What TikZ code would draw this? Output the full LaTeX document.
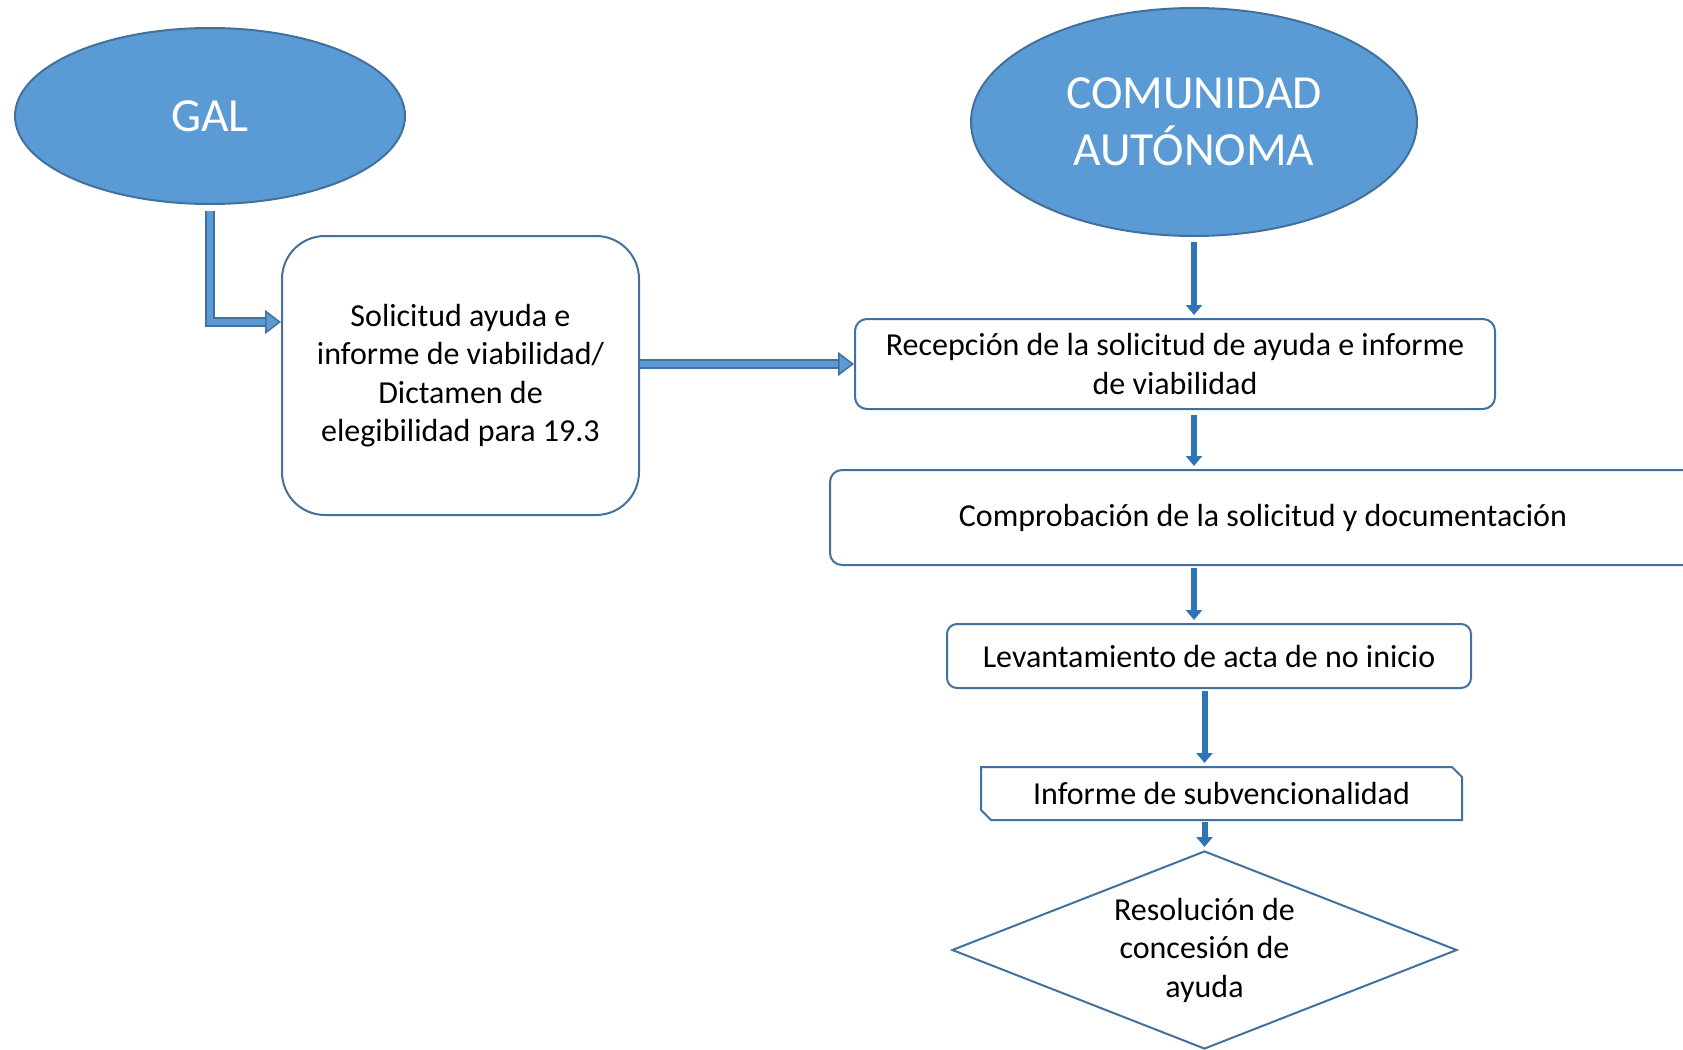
\documentclass[tikz,border=0pt]{standalone}
\usepackage{fontspec}
\setmainfont{Carlito}
\usetikzlibrary{shapes.geometric,shapes.misc,arrows.meta}
\definecolor{galBlue}{HTML}{5B9BD5}
\definecolor{galEdge}{HTML}{41719C}
\definecolor{flowBlue}{HTML}{2E75B6}

\begin{document}
\begin{tikzpicture}[x=1pt, y=-1pt,
  blueEllipse/.style={ellipse, draw=galEdge, line width=2pt, fill=galBlue, text=white, inner sep=0pt, align=center, font=\fontsize{47.5}{57}\selectfont},
  stepBox/.style={rectangle, draw=galEdge, line width=2pt, inner sep=0pt, align=center, font=\fontsize{32}{38.5}\selectfont},
  fatArrow/.style={draw=galEdge, line width=10pt, -{Triangle[length=16pt, width=24pt, fill=galBlue, line width=1.5pt]},
    postaction={draw=galBlue, line width=6.5pt, arrows=-, shorten >=16pt}},
  flowArrow/.style={draw=flowBlue, line width=6pt, -{Triangle[length=10pt, width=16pt]}, shorten >=3pt}]

\useasboundingbox (0,0) rectangle (1683,1049);
\clip (0,0) rectangle (1683,1049);

\node [blueEllipse, minimum width=390pt, minimum height=176pt] (gal) at (210,116) {GAL};
\node [blueEllipse, minimum width=446pt, minimum height=228pt] (comunidad) at (1194,122) {COMUNIDAD\\AUTÓNOMA};

\node [stepBox, rounded corners=43pt, minimum width=357pt, minimum height=279pt] (solicitud) at (460.5,375.5)
  {Solicitud ayuda e\\informe de viabilidad/\\Dictamen de\\elegibilidad para 19.3};
\node [stepBox, rounded corners=12pt, minimum width=640pt, minimum height=90pt] (recepcion) at (1175,364)
  {Recepción de la solicitud de ayuda e informe\\de viabilidad};
\node [stepBox, rounded corners=12pt, minimum width=866pt, minimum height=95pt] (comprobacion) at (1263,517.5)
  {Comprobación de la solicitud y documentación};
\node [stepBox, rounded corners=10pt, minimum width=524pt, minimum height=64pt] (levantamiento) at (1209,656)
  {Levantamiento de acta de no inicio};
\node [stepBox, chamfered rectangle, chamfered rectangle corners={north east,south west}, chamfered rectangle sep=5pt,
  minimum width=481pt, minimum height=53pt] (informe) at (1221.5,793.5) {Informe de subvencionalidad};
\node [stepBox, diamond, aspect=2.55, minimum width=505pt, minimum height=198pt] (resolucion) at (1204.5,950)
  {Resolución de\\concesión de\\ayuda};

\draw [fatArrow] ([yshift=-6pt]gal.south) |- ([yshift=53.5pt]solicitud.west);
\draw [fatArrow] (solicitud.east |- recepcion.west) -- (recepcion.west);

\draw [flowArrow] ([yshift=-5pt]comunidad.south) -- (comunidad.south |- recepcion.north);
\draw [flowArrow] ([yshift=-5pt]recepcion.south -| comunidad.south) -- (comunidad.south |- comprobacion.north);
\draw [flowArrow] ([yshift=-2pt]comprobacion.south -| comunidad.south) -- (comunidad.south |- levantamiento.north);
\draw [flowArrow] ([yshift=-2pt]levantamiento.south -| resolucion.north) -- (resolucion.north |- informe.north);
\draw [flowArrow] ([yshift=-1pt]informe.south -| resolucion.north) -- (resolucion.north);

\end{tikzpicture}
\end{document}
